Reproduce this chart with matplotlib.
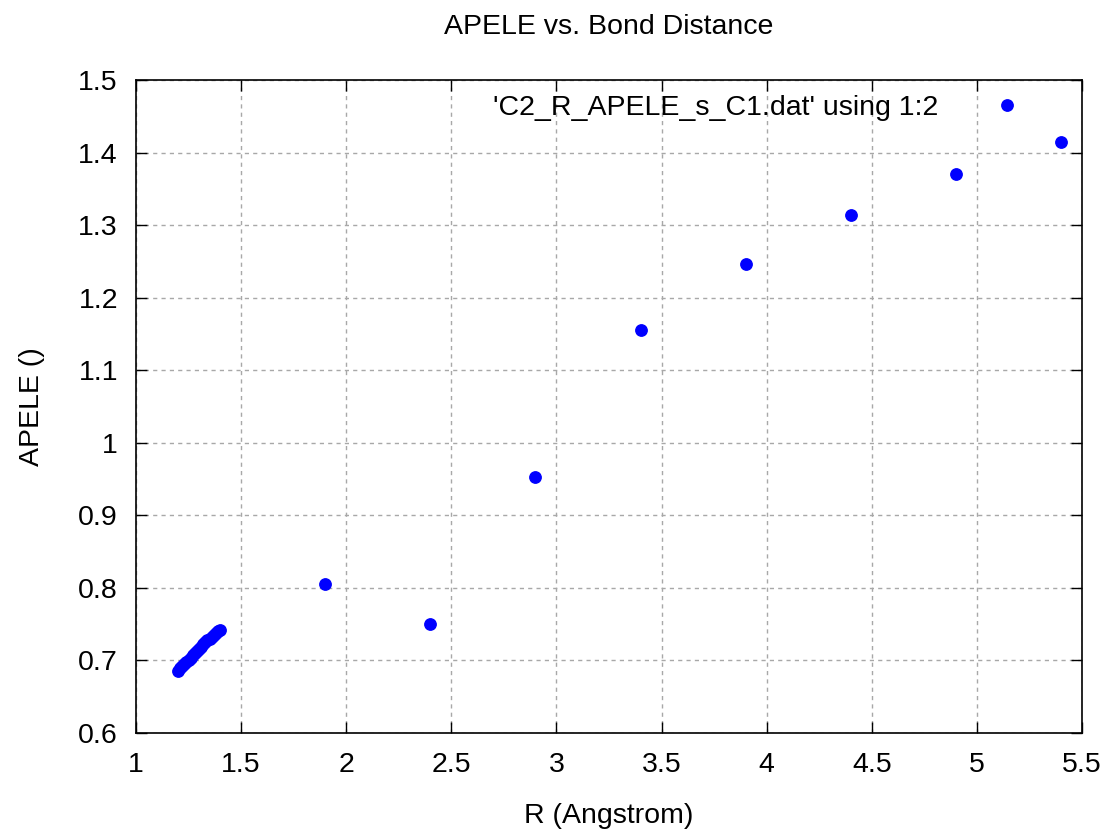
import matplotlib
matplotlib.use('Agg')
import matplotlib.pyplot as plt

# Dados (R em Angstrom, APELE)
r_cluster = [1.20, 1.21, 1.22, 1.23, 1.24, 1.25, 1.26, 1.27, 1.28, 1.29, 1.30,
             1.31, 1.32, 1.33, 1.34, 1.35, 1.36, 1.37, 1.38, 1.39, 1.40]
apele_cluster = [0.685, 0.689, 0.692, 0.695, 0.698, 0.701, 0.704, 0.707, 0.710, 0.713, 0.716,
                 0.719, 0.722, 0.725, 0.728, 0.730, 0.733, 0.735, 0.738, 0.740, 0.742]
r_far = [1.9, 2.4, 2.9, 3.4, 3.9, 4.4, 4.9, 5.4]
apele_far = [0.805, 0.750, 0.953, 1.156, 1.246, 1.314, 1.370, 1.415]

r = r_cluster + r_far
apele = apele_cluster + apele_far

xticks = [1, 1.5, 2, 2.5, 3, 3.5, 4, 4.5, 5, 5.5]
xtick_labels = ['1', '1.5', '2', '2.5', '3', '3.5', '4', '4.5', '5', '5.5']
yticks = [0.6, 0.7, 0.8, 0.9, 1.0, 1.1, 1.2, 1.3, 1.4, 1.5]
ytick_labels = ['0.6', '0.7', '0.8', '0.9', '1', '1.1', '1.2', '1.3', '1.4', '1.5']

plt.rcParams['font.family'] = ['Liberation Sans', 'DejaVu Sans']
fs = 20.5

fig = plt.figure(figsize=(11.04, 8.30), dpi=100)
ax = fig.add_axes([136/1104, 1-733/830, 946/1104, 653/830])

ax.plot(r, apele, linestyle='none', marker='o', markersize=8.2, color='#0000ff',
        label="'C2_R_APELE_s_C1.dat' using 1:2")

ax.set_xlim(1, 5.5)
ax.set_ylim(0.6, 1.5)
ax.set_xticks(xticks)
ax.set_xticklabels(xtick_labels)
ax.set_yticks(yticks)
ax.set_yticklabels(ytick_labels)
ax.tick_params(direction='in', length=8, width=1, top=True, right=True,
               labelsize=fs, color='black')
ax.tick_params(axis='x', pad=14)
ax.tick_params(axis='y', pad=13)
ax.grid(True, color='#a8a8a8', linestyle=(0, (3, 3)), linewidth=1)
for s in ax.spines.values():
    s.set_linewidth(1.2)

ax.set_title('APELE vs. Bond Distance', fontsize=fs, pad=33)
ax.set_xlabel('R (Angstrom)', fontsize=fs, labelpad=18)
ax.set_ylabel('APELE ()', fontsize=fs, labelpad=24)

leg = ax.legend(loc='center right', bbox_to_anchor=((1035-136)/946, 1-(108-80)/653),
                markerfirst=False, frameon=False, fontsize=fs, handlelength=2.0,
                handletextpad=1.4, borderaxespad=0, borderpad=0)

fig.savefig('out.png', dpi=100)
